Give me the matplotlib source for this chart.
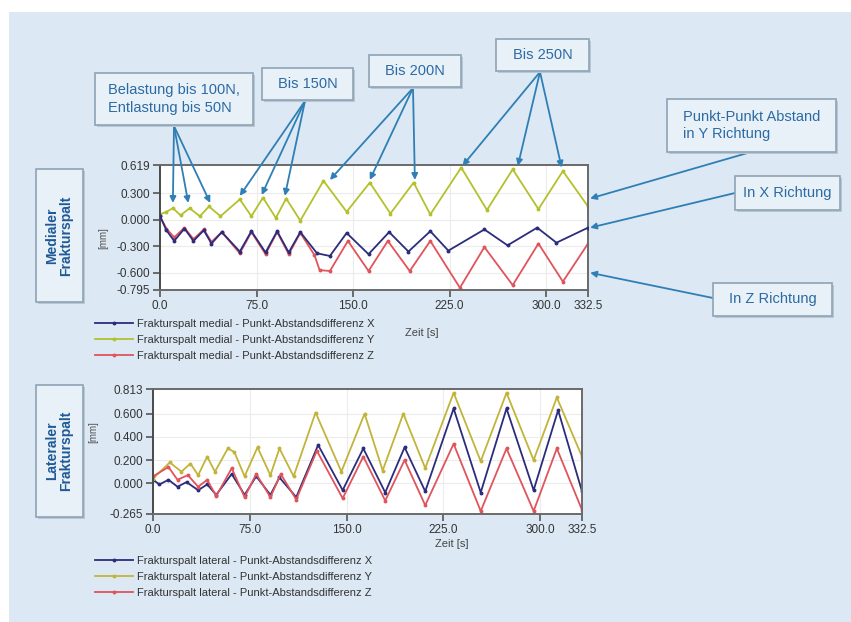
import matplotlib
matplotlib.use("Agg")
import matplotlib.pyplot as plt
from matplotlib.patches import Rectangle

plt.rcParams["font.family"] = ["Liberation Sans", "DejaVu Sans"]

# ── Data ──────────────────────────────────────────────────────────────────────

# medial fracture gap, time [s] / distance [mm]
t_med_x = [0, 5, 11, 19, 26, 34, 40, 48, 62, 71, 82, 91, 100, 109, 122, 132, 145,
           162, 178, 193, 210, 224, 252, 270, 293, 308, 332.5]
v_med_x = [0.04, -0.12, -0.24, -0.10, -0.24, -0.12, -0.27, -0.14, -0.36, -0.13, -0.37,
           -0.13, -0.37, -0.14, -0.38, -0.41, -0.15, -0.39, -0.14, -0.36, -0.13, -0.35,
           -0.11, -0.29, -0.09, -0.26, -0.09]

t_med_y = [0, 5, 10, 16, 23, 31, 38, 47, 62, 71, 80, 90, 98, 109, 127, 145, 163,
           179, 197, 210, 234, 254, 274, 294, 313, 332.5]
v_med_y = [0.06, 0.09, 0.13, 0.05, 0.13, 0.04, 0.15, 0.04, 0.23, 0.04, 0.25, 0.02,
           0.24, -0.01, 0.44, 0.09, 0.42, 0.07, 0.42, 0.06, 0.59, 0.11, 0.57, 0.12,
           0.55, 0.15]

t_med_z = [0, 5, 11, 19, 26, 34, 40, 48, 62, 71, 82, 91, 100, 109, 120, 124, 132,
           146, 162, 177, 194, 210, 233, 252, 274, 294, 313, 332.5]
v_med_z = [0.04, -0.10, -0.20, -0.09, -0.22, -0.11, -0.25, -0.14, -0.38, -0.14, -0.39,
           -0.14, -0.39, -0.15, -0.40, -0.57, -0.58, -0.24, -0.58, -0.24, -0.58, -0.24,
           -0.77, -0.31, -0.74, -0.27, -0.70, -0.27]

# lateral fracture gap
t_lat_x = [0, 5, 12, 19, 26, 35, 42, 49, 61, 71, 80, 91, 98, 111, 128, 147, 163,
           180, 195, 211, 233, 254, 274, 295, 314, 332.5]
v_lat_x = [0.03, -0.01, 0.03, -0.03, 0.01, -0.06, -0.01, -0.10, 0.08, -0.10, 0.06,
           -0.10, 0.05, -0.12, 0.33, -0.06, 0.30, -0.08, 0.31, -0.07, 0.645, -0.08,
           0.645, -0.06, 0.63, -0.07]

t_lat_y = [0, 13, 22, 29, 35, 42, 48, 58, 63, 71, 81, 91, 98, 109, 126, 146, 164,
           178, 194, 211, 233, 254, 274, 295, 313, 332.5]
v_lat_y = [0.04, 0.18, 0.10, 0.17, 0.07, 0.23, 0.10, 0.30, 0.27, 0.06, 0.31, 0.07,
           0.30, 0.06, 0.61, 0.10, 0.60, 0.11, 0.60, 0.13, 0.78, 0.19, 0.78, 0.20,
           0.74, 0.23]

t_lat_z = [0, 12, 19, 27, 35, 42, 49, 61, 71, 80, 91, 99, 111, 127, 147, 163, 180,
           195, 211, 233, 254, 274, 295, 313, 332.5]
v_lat_z = [0.06, 0.14, 0.03, 0.07, -0.03, 0.03, -0.11, 0.13, -0.12, 0.08, -0.12,
           0.08, -0.14, 0.28, -0.13, 0.23, -0.15, 0.20, -0.19, 0.34, -0.24, 0.30,
           -0.24, 0.30, -0.23]

x_ticks = [0.0, 75.0, 150.0, 225.0, 300.0, 332.5]
med_yticks = [0.619, 0.300, 0.000, -0.300, -0.600, -0.795]
lat_yticks = [0.813, 0.600, 0.400, 0.200, 0.000, -0.265]

med_labels = ["Frakturspalt medial - Punkt-Abstandsdifferenz X",
              "Frakturspalt medial - Punkt-Abstandsdifferenz Y",
              "Frakturspalt medial - Punkt-Abstandsdifferenz Z"]
lat_labels = ["Frakturspalt lateral - Punkt-Abstandsdifferenz X",
              "Frakturspalt lateral - Punkt-Abstandsdifferenz Y",
              "Frakturspalt lateral - Punkt-Abstandsdifferenz Z"]

# arrow targets (time, value) in the medial plot
arrows_100 = [(10, 0.19), (22, 0.19), (39, 0.19)]
arrows_150 = [(62, 0.27), (79, 0.28), (97, 0.27)]
arrows_200 = [(132, 0.45), (163, 0.45), (198, 0.45)]
arrows_250 = [(235, 0.61), (278, 0.61), (312, 0.59)]

# ── Styling ──────────────────────────────────────────────────────────────────

W, H = 851, 622
BG = "#dce9f4"
TXT_BLUE = "#2c6aa3"
ARROW = "#2f7fb5"
C_X = "#2b2d7c"
C_Y = "#b4c12c"
C_Y_LAT = "#c2b43a"
C_Z = "#e0545c"


def rect(l, t, r, b):
    return [l / W, 1 - b / H, (r - l) / W, (b - t) / H]


def fpt(px, py):
    return (px / W, 1 - py / H)


fig = plt.figure(figsize=(W / 100, H / 100), dpi=100, facecolor="white")
fig.patches.append(Rectangle((9 / W, 0), 1, 1 - 12 / H, transform=fig.transFigure,
                             facecolor=BG, edgecolor="none", zorder=-10))


def style_axes(ax, yticks):
    ax.set_facecolor("white")
    ax.set_xlim(0, 332.5)
    ax.set_ylim(yticks[-1], yticks[0])
    ax.set_xticks(x_ticks)
    ax.set_xticklabels([f"{v:.1f}" for v in x_ticks])
    ax.set_yticks(yticks)
    ax.set_yticklabels([f"{v:.3f}" for v in yticks])
    ax.grid(True, color="#ececec", lw=0.8)
    ax.set_axisbelow(True)
    for s in ax.spines.values():
        s.set_color("#6a6a6a")
        s.set_linewidth(1.4)
    ax.spines["left"].set_color("#4a4a4a")
    ax.spines["left"].set_linestyle((0, (3, 1)))
    ax.tick_params(length=5, width=1.2, color="#555555", labelsize=8.5,
                   labelcolor="#333333", pad=2)


line_kw = dict(lw=1.3, marker="o", markersize=1.8)

# ── Medial plot ──────────────────────────────────────────────────────────────
ax1 = fig.add_axes(rect(160, 165, 588, 290))
style_axes(ax1, med_yticks)
h1 = ax1.plot(t_med_x, v_med_x, color=C_X, label=med_labels[0], zorder=3, **line_kw)
h2 = ax1.plot(t_med_y, v_med_y, color=C_Y, label=med_labels[1], **line_kw)
h3 = ax1.plot(t_med_z, v_med_z, color=C_Z, label=med_labels[2], **line_kw)

fig.legend(handles=h1 + h2 + h3, loc="upper left", bbox_to_anchor=fpt(95, 319),
           frameon=False, fontsize=8, handlelength=3.4, handletextpad=0.35,
           labelspacing=0.55, borderpad=0, borderaxespad=0, labelcolor="#333333")
fig.text(*fpt(422, 333), "Zeit [s]", fontsize=8, color="#444444", ha="center", va="center")
fig.text(*fpt(103, 238), "[mm]", fontsize=7, color="#555555", rotation=90,
         ha="center", va="center")

# ── Lateral plot ─────────────────────────────────────────────────────────────
ax2 = fig.add_axes(rect(153, 389, 582, 514))
style_axes(ax2, lat_yticks)
g1 = ax2.plot(t_lat_x, v_lat_x, color=C_X, label=lat_labels[0], **line_kw)
g2 = ax2.plot(t_lat_y, v_lat_y, color=C_Y_LAT, label=lat_labels[1], **line_kw)
g3 = ax2.plot(t_lat_z, v_lat_z, color=C_Z, label=lat_labels[2], **line_kw)

fig.legend(handles=g1 + g2 + g3, loc="upper left", bbox_to_anchor=fpt(95, 556),
           frameon=False, fontsize=8, handlelength=3.4, handletextpad=0.35,
           labelspacing=0.55, borderpad=0, borderaxespad=0, labelcolor="#333333")
fig.text(*fpt(452, 544), "Zeit [s]", fontsize=8, color="#444444", ha="center", va="center")
fig.text(*fpt(93, 432), "[mm]", fontsize=7, color="#555555", rotation=90,
         ha="center", va="center")

# ── Annotation boxes ─────────────────────────────────────────────────────────


def box(l, t, r, b, text, rotation=0, **kw):
    fig.patches.append(Rectangle((l / W + 2 / W, 1 - b / H - 2 / H), (r - l) / W, (b - t) / H,
                                 transform=fig.transFigure, facecolor="#b9c7d3",
                                 edgecolor="none", zorder=1))
    fig.patches.append(Rectangle((l / W, 1 - b / H), (r - l) / W, (b - t) / H,
                                 transform=fig.transFigure, facecolor="#e8f1f8",
                                 edgecolor="#8fa3b5", lw=1.2, zorder=2))
    opts = dict(fontsize=10.5, color=TXT_BLUE, ha="center", va="center",
                rotation=rotation, zorder=3)
    opts.update(kw)
    fig.text(*fpt((l + r) / 2, (t + b) / 2), text, **opts)


box(95, 73, 253, 125, "Belastung bis 100N,\nEntlastung bis 50N", ha="center",
    multialignment="left", linespacing=1.3)
box(262, 68, 353, 100, "Bis 150N")
box(369, 55, 461, 87, "Bis 200N")
box(496, 39, 589, 71, "Bis 250N")
box(667, 99, 836, 152, "Punkt-Punkt Abstand\nin Y Richtung", multialignment="left",
    linespacing=1.3)
box(735, 176, 840, 210, "In X Richtung")
box(713, 283, 832, 316, "In Z Richtung")
box(36, 169, 83, 302, "Medialer\nFrakturspalt", rotation=90, fontweight="bold",
    color="#1f5a96", linespacing=1.0, fontsize=10)
box(36, 385, 83, 517, "Lateraler\nFrakturspalt", rotation=90, fontweight="bold",
    color="#1f5a96", linespacing=1.0, fontsize=10)

arrow_kw = dict(arrowstyle="-|>", color=ARROW, lw=1.3, shrinkA=0, shrinkB=0,
                mutation_scale=9)


def arrows(targets, src):
    for t, v in targets:
        ax1.annotate("", xy=(t, v), xycoords="data", xytext=fpt(*src),
                     textcoords="figure fraction", arrowprops=arrow_kw,
                     annotation_clip=False)


arrows(arrows_100, (174, 126))
arrows(arrows_150, (305, 101))
arrows(arrows_200, (413, 88))
arrows(arrows_250, (540, 72))

for v, src in [(0.24, (751, 152)), (-0.09, (735, 193)), (-0.60, (713, 298))]:
    ax1.annotate("", xy=(1.005, v), xycoords=("axes fraction", "data"), xytext=fpt(*src),
                 textcoords="figure fraction", arrowprops=arrow_kw, annotation_clip=False)

fig.savefig("out.png", dpi=100, facecolor=fig.get_facecolor())
